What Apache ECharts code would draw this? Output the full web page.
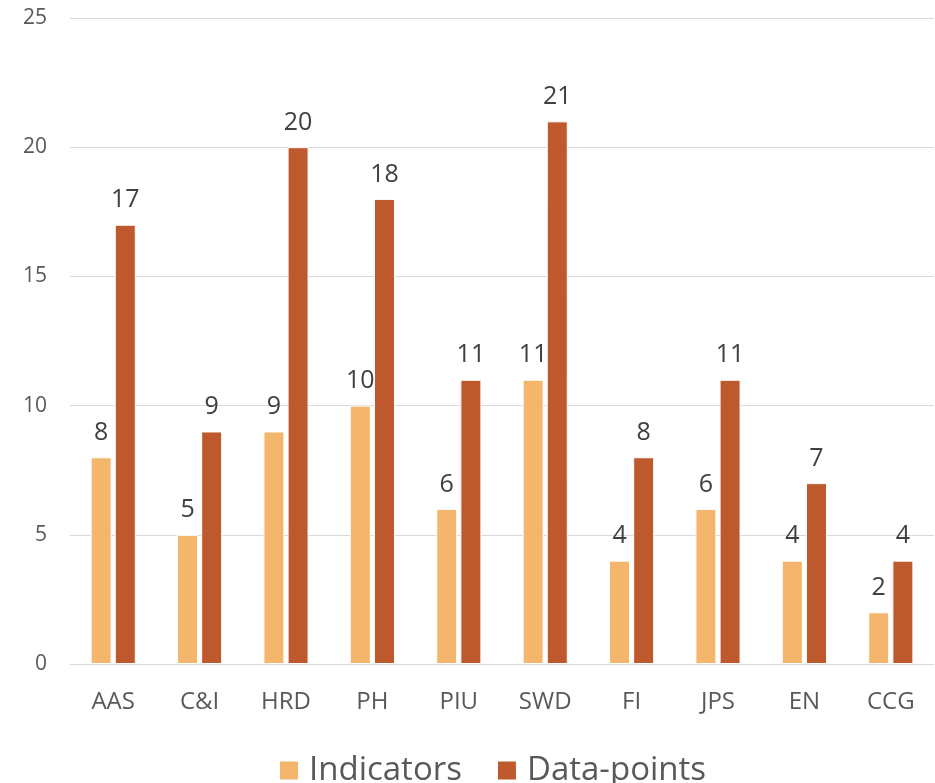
<!DOCTYPE html>
<html><head><meta charset="utf-8">
<script src="https://cdn.jsdelivr.net/npm/echarts@6/dist/echarts.min.js"></script>
<style>html,body{margin:0;padding:0;background:#fff}#c{width:935px;height:783px}</style>
</head><body><div id="c"></div>
<script>
const categories = ['AAS','C&I','HRD','PH','PIU','SWD','FI','JPS','EN','CCG'];
const indicators = [8,5,9,10,6,11,4,6,4,2];
const dataPoints = [17,9,20,18,11,21,8,11,7,4];
const yTicks = {min:0, max:25, interval:5};

const chart = echarts.init(document.getElementById('c'));
const font = '"Open Sans", sans-serif';
const label = {show:true, position:'top', distance:12, fontSize:25, color:'#404040', fontFamily:font};
chart.setOption({
  animation:false,
  textStyle:{fontFamily:font},
  grid:{left:70, right:1, top:18, bottom:119},
  legend:{
    top:749, left:273, itemWidth:20, itemHeight:20, itemGap:34,
    icon:'rect',
    textStyle:{fontSize:33, color:'#595959', fontFamily:font, padding:[0,0,0,5]},
    data:['Indicators','Data-points']
  },
  xAxis:{
    type:'category', data:categories,
    axisLine:{lineStyle:{color:'#D9D9D9', width:1}},
    axisTick:{show:false},
    axisLabel:{fontSize:24, color:'#595959', margin:26, fontFamily:font}
  },
  yAxis:{
    type:'value', min:yTicks.min, max:yTicks.max, interval:yTicks.interval,
    axisLine:{show:false}, axisTick:{show:false},
    splitLine:{lineStyle:{color:'#D9D9D9', width:1}},
    axisLabel:{fontSize:21, color:'#595959', margin:23, fontFamily:font}
  },
  series:[
    {name:'Indicators', type:'bar', data:indicators, barWidth:21, barGap:'15%',
     itemStyle:{color:'#F4B66C', borderColor:'#fff', borderWidth:1}, label:label},
    {name:'Data-points', type:'bar', data:dataPoints, barWidth:21,
     itemStyle:{color:'#BE582D', borderColor:'#fff', borderWidth:1}, label:label}
  ]
});
</script></body></html>
